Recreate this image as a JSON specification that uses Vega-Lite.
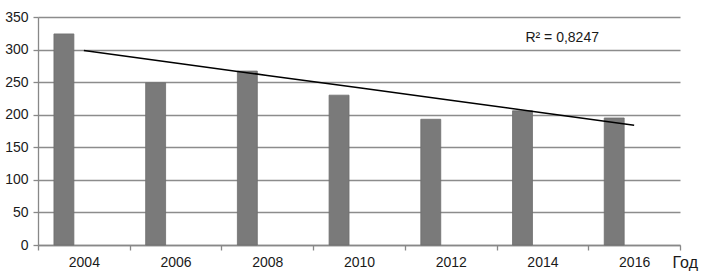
{
  "$schema": "https://vega.github.io/schema/vega-lite/v6.json",
  "width": 642,
  "height": 228,
  "autosize": {"type": "none"},
  "padding": {"left": 38, "top": 17, "right": 29, "bottom": 33},
  "background": "white",
  "config": {
    "view": {"stroke": null},
    "font": "Liberation Sans",
    "axis": {"labelFont": "Liberation Sans", "titleFont": "Liberation Sans"},
    "axisY": {
      "labelFontSize": 14,
      "labelColor": "#1a1a1a",
      "labelPadding": 5,
      "tickSize": 5,
      "tickColor": "#888888",
      "tickWidth": 1.3,
      "domainColor": "#888888",
      "domainWidth": 1.3,
      "grid": true,
      "gridColor": "#8c8c8c",
      "gridWidth": 1.3
    }
  },
  "datasets": {
    "bars": [
      {"year": "2004", "series": "s1", "value": 324},
      {"year": "2006", "series": "s1", "value": 249},
      {"year": "2008", "series": "s1", "value": 267},
      {"year": "2010", "series": "s1", "value": 230},
      {"year": "2012", "series": "s1", "value": 193},
      {"year": "2014", "series": "s1", "value": 206},
      {"year": "2016", "series": "s1", "value": 195}
    ],
    "trend": [
      {"year": "2004", "trend": 298.5},
      {"year": "2006", "trend": 279.4},
      {"year": "2008", "trend": 260.3},
      {"year": "2010", "trend": 241.3},
      {"year": "2012", "trend": 222.2},
      {"year": "2014", "trend": 203.1},
      {"year": "2016", "trend": 184}
    ],
    "note": [
      {"year": "2014", "y": 317, "label": "R² = 0,8247"}
    ]
  },
  "layer": [
    {
      "data": {"name": "bars"},
      "mark": {"type": "bar", "color": "#7a7a7a", "stroke": "#6e6e6e", "strokeWidth": 0.8},
      "encoding": {
        "x": {
          "field": "year",
          "type": "ordinal",
          "scale": {"domain": ["2004", "2006", "2008", "2010", "2012", "2014", "2016"], "paddingInner": 0, "paddingOuter": 0},
          "axis": {
            "title": "Год",
            "titleFontSize": 16,
            "titleFontWeight": "normal",
            "titleColor": "#1a1a1a",
            "titleAlign": "left",
            "titleAnchor": null,
            "titleX": 634,
            "titleY": 17,
            "titleBaseline": "middle",
            "labelAngle": 0,
            "labelFontSize": 14,
            "labelColor": "#1a1a1a",
            "labelPadding": 5,
            "tickBand": "extent",
            "tickSize": 5,
            "tickColor": "#888888",
            "tickWidth": 1.3,
            "domainColor": "#888888",
            "domainWidth": 1.3,
            "grid": false
          }
        },
        "xOffset": {
          "field": "series",
          "type": "nominal",
          "scale": {"domain": ["s1", "s2", "s3"], "paddingInner": 0, "paddingOuter": 0.8}
        },
        "y": {
          "field": "value",
          "type": "quantitative",
          "scale": {"domain": [0, 350], "nice": false},
          "axis": {"title": null, "values": [0, 50, 100, 150, 200, 250, 300, 350], "labelOverlap": false}
        }
      }
    },
    {
      "data": {"name": "trend"},
      "mark": {"type": "line", "color": "#000000", "strokeWidth": 1.5},
      "encoding": {
        "x": {"field": "year", "type": "ordinal"},
        "y": {
          "field": "trend",
          "type": "quantitative",
          "axis": {"title": null, "values": [0, 50, 100, 150, 200, 250, 300, 350], "labelOverlap": false}
        }
      }
    },
    {
      "data": {"name": "note"},
      "mark": {"type": "text", "align": "left", "baseline": "middle", "dx": -17, "fontSize": 14, "color": "#1a1a1a"},
      "encoding": {
        "x": {"field": "year", "type": "ordinal"},
        "y": {
          "field": "y",
          "type": "quantitative",
          "axis": {"title": null, "values": [0, 50, 100, 150, 200, 250, 300, 350], "labelOverlap": false}
        },
        "text": {"field": "label"}
      }
    }
  ]
}
